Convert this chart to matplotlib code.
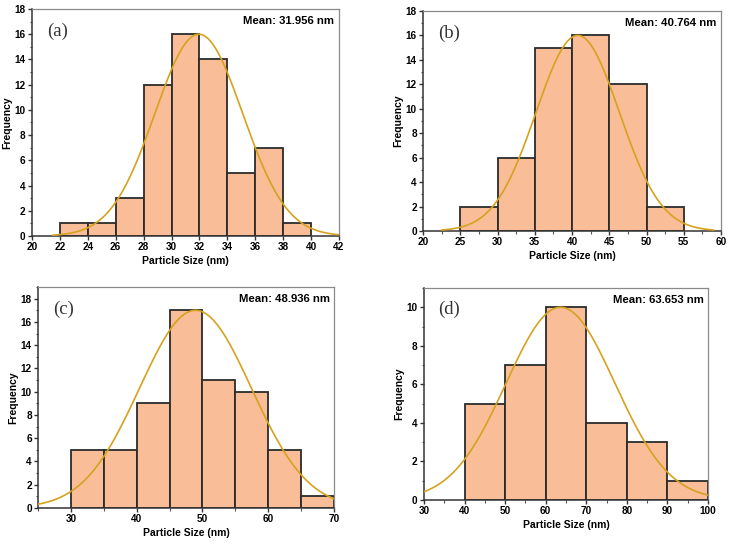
import numpy as np
import matplotlib.pyplot as plt
from matplotlib.ticker import MultipleLocator

# ---- data ----
edges_a = [22, 24, 26, 28, 30, 32, 34, 36, 38, 40]
counts_a = [1, 1, 3, 12, 16, 14, 5, 7, 1]
fit_a = dict(mean=31.956, peak=16.0, sigma=3.15, x0=21.5, x1=42)

edges_b = [25, 30, 35, 40, 45, 50, 55]
counts_b = [2, 6, 15, 16, 12, 2]
fit_b = dict(mean=40.764, peak=16.0, sigma=5.6, x0=22.5, x1=59)

edges_c = [30, 35, 40, 45, 50, 55, 60, 65, 70]
counts_c = [5, 5, 9, 17, 11, 10, 5, 1]
fit_c = dict(mean=48.936, peak=17.0, sigma=8.5, x0=25, x1=70)

edges_d = [40, 50, 60, 70, 80, 90, 100]
counts_d = [5, 7, 10, 4, 3, 1]
fit_d = dict(mean=63.653, peak=10.0, sigma=13.4, x0=30, x1=100)

labels = ["(a)", "(b)", "(c)", "(d)"]
means_txt = ["Mean: 31.956 nm", "Mean: 40.764 nm", "Mean: 48.936 nm", "Mean: 63.653 nm"]

# ---- style ----
BAR = "#F9BD98"
EDGE = "#2b2b2b"
CURVE = "#D6A21E"

fig = plt.figure(figsize=(7.30, 5.44), dpi=100)

panels = [
    dict(rect=[0.0438, 0.5662, 0.4205, 0.4173], edges=edges_a, counts=counts_a, fit=fit_a,
         xlim=(20, 42), ylim=(0, 18), xmaj=2, xmin=None, ymaj=2, ymin=1),
    dict(rect=[0.5795, 0.5754, 0.4082, 0.4044], edges=edges_b, counts=counts_b, fit=fit_b,
         xlim=(20, 60), ylim=(0, 18), xmaj=5, xmin=2.5, ymaj=2, ymin=1),
    dict(rect=[0.0521, 0.0662, 0.4055, 0.4062], edges=edges_c, counts=counts_c, fit=fit_c,
         xlim=(25, 70), ylim=(0, 19), xmaj=10, xmin=5, ymaj=2, ymin=1),
    dict(rect=[0.5808, 0.0809, 0.3890, 0.3897], edges=edges_d, counts=counts_d, fit=fit_d,
         xlim=(30, 100), ylim=(0, 11), xmaj=10, xmin=5, ymaj=2, ymin=1),
]

for i, p in enumerate(panels):
    ax = fig.add_axes(p["rect"])
    e = np.array(p["edges"], dtype=float)
    ax.bar(e[:-1], p["counts"], width=np.diff(e), align="edge",
           color=BAR, edgecolor=EDGE, linewidth=1.3, zorder=2)
    f = p["fit"]
    xs = np.linspace(f["x0"], f["x1"], 400)
    ys = f["peak"] * np.exp(-(xs - f["mean"]) ** 2 / (2 * f["sigma"] ** 2))
    ax.plot(xs, ys, color=CURVE, lw=1.2, zorder=3)
    ax.set_xlim(*p["xlim"])
    ax.set_ylim(*p["ylim"])
    ax.xaxis.set_major_locator(MultipleLocator(p["xmaj"]))
    if p["xmin"]:
        ax.xaxis.set_minor_locator(MultipleLocator(p["xmin"]))
    ax.yaxis.set_major_locator(MultipleLocator(p["ymaj"]))
    ax.yaxis.set_minor_locator(MultipleLocator(p["ymin"]))
    for side in ["left", "bottom"]:
        ax.spines[side].set_color("#333333")
        ax.spines[side].set_linewidth(1.1)
    for side in ["top", "right"]:
        ax.spines[side].set_color("#8a8a8a")
        ax.spines[side].set_linewidth(0.9)
    ax.tick_params(which="major", direction="out", length=3, width=1, color="#333333",
                   labelsize=7.2, pad=1.5)
    ax.tick_params(which="minor", direction="out", length=1.8, width=0.8, color="#555555")
    for lab in ax.get_xticklabels() + ax.get_yticklabels():
        lab.set_fontweight("bold")
        lab.set_family("Liberation Sans")
    ax.set_xlabel("Particle Size (nm)", fontsize=7.5, fontweight="bold",
                  family="Liberation Sans", labelpad=3)
    ax.set_ylabel("Frequency", fontsize=7.5, fontweight="bold",
                  family="Liberation Sans", labelpad=2)
    ax.text(0.05, 0.9, labels[i], transform=ax.transAxes, fontsize=13.5,
            family="Liberation Serif", ha="left", va="center", color="#333333")
    ax.text(0.985, 0.945, means_txt[i], transform=ax.transAxes, fontsize=8.2,
            fontweight="bold", family="Liberation Sans", ha="right", va="center")

fig.savefig("out.png", dpi=100)
